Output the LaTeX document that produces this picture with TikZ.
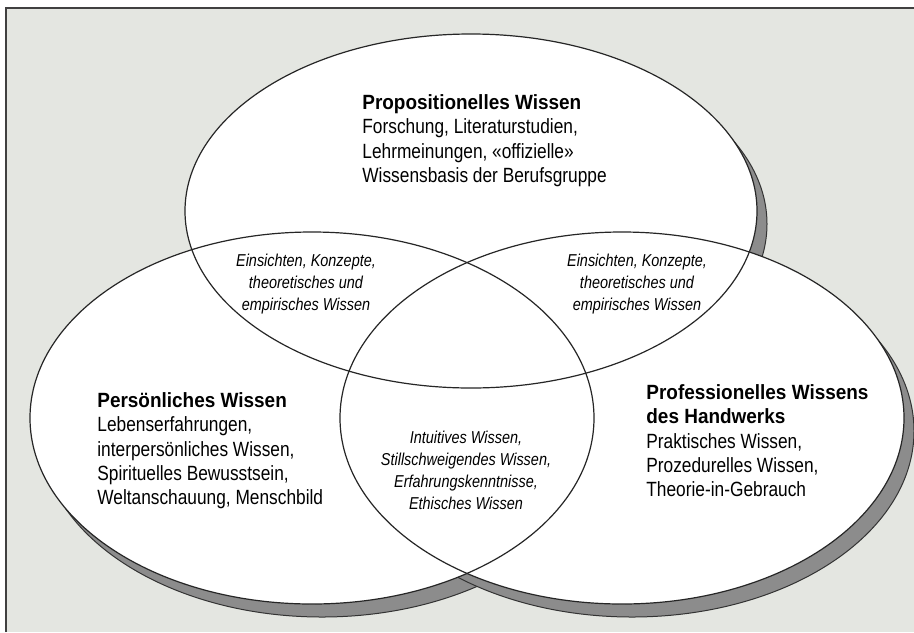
\documentclass[tikz,border=0pt]{standalone}
\usepackage{fontspec}
\setmainfont{Liberation Sans}[FakeStretch=0.84, BoldFeatures={FakeStretch=0.92}]

\definecolor{papier}{RGB}{228,230,225}
\definecolor{schatten}{RGB}{140,140,140}

\tikzset{
  schattenlinie/.style={fill=schatten, draw=black!80, line width=0.5pt},
  kreislinie/.style={draw=black!85, line width=0.6pt},
  wissen/.style={inner sep=0pt, align=left, anchor=north west,
    font=\fontsize{10.3}{12.2}\selectfont},
  schnitt/.style={inner sep=0pt, align=center, anchor=north,
    font=\fontsize{8.6}{11}\selectfont\itshape},
}

\begin{document}
\begin{tikzpicture}[x=0.5pt, y=-0.5pt]
\useasboundingbox (0,0) rectangle (914,632);
\fill[white] (0,0) rectangle (914,632);
\fill[papier] (6,8) rectangle (914,632);
\draw[black!75, line width=0.8pt] (6,632) -- (6,8) -- (914,8);

\coordinate (oben) at (471,211);
\coordinate (links) at (312,418);
\coordinate (rechts) at (622,418);

% Schatten
\draw[schattenlinie] ([shift={(10,13)}]oben) ellipse [x radius=286, y radius=177];
\draw[schattenlinie] ([shift={(10,13)}]links) ellipse [x radius=282, y radius=186];
\draw[schattenlinie] ([shift={(10,13)}]rechts) ellipse [x radius=282, y radius=186];

% Flaechen
\fill[white] (oben) ellipse [x radius=286, y radius=177];
\fill[white] (links) ellipse [x radius=282, y radius=186];
\fill[white] (rechts) ellipse [x radius=282, y radius=186];

% Umrisse
\draw[kreislinie] (oben) ellipse [x radius=286, y radius=177];
\draw[kreislinie] (links) ellipse [x radius=282, y radius=186];
\draw[kreislinie] (rechts) ellipse [x radius=282, y radius=186];

\node[wissen] (propositionell) at (362,94)
  {\textbf{Propositionelles Wissen}\\Forschung, Literaturstudien,\\Lehrmeinungen, «offizielle»\\Wissensbasis der Berufsgruppe};
\node[wissen] (persoenlich) at (97,392)
  {\textbf{Persönliches Wissen}\\Lebenserfahrungen,\\interpersönliches Wissen,\\Spirituelles Bewusstsein,\\Weltanschauung, Menschbild};
\node[wissen] (professionell) at (646,384)
  {\textbf{Professionelles Wissens}\\\textbf{des Handwerks}\\Praktisches Wissen,\\Prozedurelles Wissen,\\Theorie-in-Gebrauch};

\node[schnitt] (einsichtenL) at (306,254)
  {Einsichten, Konzepte,\\theoretisches und\\empirisches Wissen};
\node[schnitt] (einsichtenR) at (637,254)
  {Einsichten, Konzepte,\\theoretisches und\\empirisches Wissen};
\node[schnitt] (intuitiv) at (466,431)
  {Intuitives Wissen,\\Stillschweigendes Wissen,\\Erfahrungskenntnisse,\\Ethisches Wissen};
\end{tikzpicture}
\end{document}
